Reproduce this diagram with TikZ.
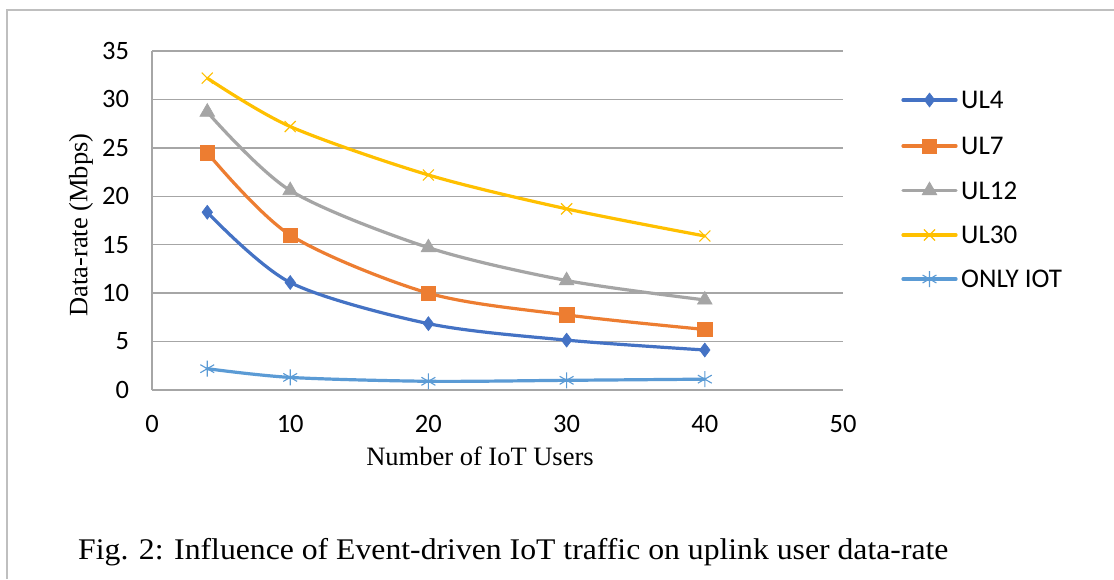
\documentclass[tikz,border=0pt]{standalone}
\usepackage{fontspec}
\setmainfont{Liberation Serif}
\newfontfamily\carl{Carlito}
\usetikzlibrary{plotmarks}
\definecolor{cUL4}{HTML}{4472C4}
\definecolor{cUL7}{HTML}{ED7D31}
\definecolor{cUL12}{HTML}{A5A5A5}
\definecolor{cUL30}{HTML}{FFC000}
\definecolor{cIOT}{HTML}{5B9BD5}
\definecolor{gridc}{HTML}{A6A6A6}
\definecolor{framec}{HTML}{BFBFBF}
\tikzset{
  gridline/.style={draw=gridc, line width=1.3pt},
  series/.style={line width=3.2pt, line cap=round, line join=round, smooth, tension=0.5},
  tick/.style={font=\carl\fontsize{26.5}{26.5}\selectfont, inner sep=0pt},
  legtext/.style={font=\carl\fontsize{27}{27}\selectfont, anchor=west, inner sep=0pt},
  axtitle/.style={font=\fontsize{26.5}{26.5}\selectfont, inner sep=0pt},
  mkUL4/.style={mark=diamond*, mark size=7pt, mark options={solid, fill=cUL4, draw=cUL4, line width=0.6pt}},
  mkUL7/.style={mark=square*, mark size=7.2pt, mark options={solid, fill=cUL7, draw=cUL7, line width=0.6pt}},
  mkUL12/.style={mark=triangle*, mark size=8.5pt, mark options={solid, fill=cUL12, draw=cUL12, line width=0.6pt}},
  mkUL30/.style={mark=x, mark size=7.8pt, mark options={solid, draw=cUL30, line width=1.1pt}},
  mkIOT/.style={mark=asterisk, mark size=8pt, mark options={solid, draw=cIOT, line width=1.1pt}},
}
\begin{document}
\begin{tikzpicture}[x=1pt, y=-1pt]
\useasboundingbox (0,0) rectangle (1114,579);
\fill[white] (0,0) rectangle (1114,579);
% outer frame
\draw[framec, line width=1.3pt] (7,579) -- (7,10) -- (1114,10);

% plot area
\begin{scope}[shift={(152pt,-390pt)}, x=13.82pt, y=9.686pt]
  \foreach \v in {5,10,...,35} {\draw[gridline] (0,\v) -- (50,\v);}
  \draw[gridline] (0,0) -- (50,0);
  \draw[gridline] (0,0) -- (0,35);
  \foreach \v in {0,5,...,35} {\node[tick, anchor=east] (yt\v) at (-1.65,\v) {\v};}
  \foreach \v in {0,10,...,50} {\node[tick, anchor=base] (xt\v) at (\v,-4.34) {\v};}

  \draw[cUL30, series] plot coordinates {(4,32.2) (10,27.2) (20,22.2) (30,18.7) (40,15.9)};
  \draw[cUL12, series] plot coordinates {(4,28.7) (10,20.6) (20,14.7) (30,11.3) (40,9.3)};
  \draw[cUL7, series] plot coordinates {(4,24.5) (10,16.0) (20,10.0) (30,7.75) (40,6.25)};
  \draw[cUL4, series] plot coordinates {(4,18.35) (10,11.1) (20,6.85) (30,5.15) (40,4.13)};
  \draw[cIOT, series] plot coordinates {(4,2.2) (10,1.3) (20,0.9) (30,1.0) (40,1.12)};

  \path[mkUL30] plot[only marks] coordinates {(4,32.2) (10,27.2) (20,22.2) (30,18.7) (40,15.9)};
  \path[mkUL12] plot[only marks] coordinates {(4,28.7) (10,20.6) (20,14.7) (30,11.3) (40,9.3)};
  \path[mkUL7] plot[only marks] coordinates {(4,24.5) (10,16.0) (20,10.0) (30,7.75) (40,6.25)};
  \path[mkUL4] plot[only marks] coordinates {(4,18.35) (10,11.1) (20,6.85) (30,5.15) (40,4.13)};
  \path[mkIOT] plot[only marks] coordinates {(4,2.2) (10,1.3) (20,0.9) (30,1.0) (40,1.12)};
\end{scope}

% axis titles
\node[axtitle, rotate=90] (ylab) at (81,225) {Data-rate (Mbps)};
\node[axtitle, anchor=base] (xlab) at (480,465) {Number of IoT Users};

% legend
\foreach \nm/\yy/\mk in {UL4/100/mkUL4, UL7/146/mkUL7, UL12/190.5/mkUL12, UL30/235/mkUL30} {
  \coordinate (l\nm a) at (903,\yy);
  \coordinate (l\nm b) at (956,\yy);
  \draw[c\nm, line width=3.2pt, line cap=round] (l\nm a) -- (l\nm b);
  \path[\mk] plot[only marks] coordinates {(929.5,\yy)};
  \node[legtext] (t\nm) at (961,\yy) {\nm};
}
\coordinate (lIOTa) at (903,279);
\coordinate (lIOTb) at (956,279);
\draw[cIOT, line width=3.2pt, line cap=round] (lIOTa) -- (lIOTb);
\path[mkIOT] plot[only marks] coordinates {(929.5,279)};
\node[legtext] (tIOT) at (961,279) {ONLY IOT};

% caption
\node[anchor=base west, inner sep=0pt, font=\fontsize{30}{30}\selectfont, xscale=1.057] (cap) at (78,559.5) {Fig. 2: Influence of Event-driven IoT traffic on uplink user data-rate};
\end{tikzpicture}
\end{document}
